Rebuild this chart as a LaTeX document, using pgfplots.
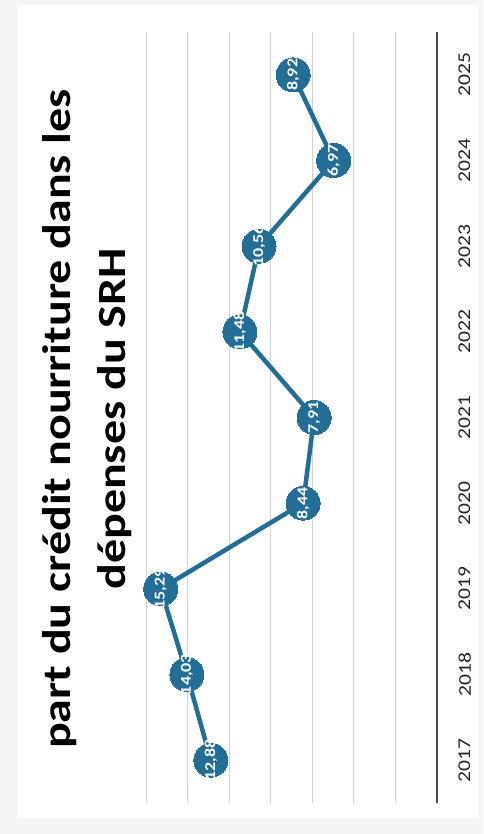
\documentclass[border=0pt]{standalone}
\usepackage{fontspec}
\setmainfont{Carlito}
\newfontfamily\stretchfont[FakeStretch=1.2]{Carlito}
\usepackage{pgfplots}
\pgfplotsset{compat=1.18}
\definecolor{dotblue}{RGB}{35,110,150}
\begin{document}
\begin{tikzpicture}
\path[use as bounding box, fill=gray!8] (-146pt,-31pt) rectangle (337pt,803pt);
\fill[white] (-128pt,-15pt) rectangle (332pt,798pt);
\begin{axis}[
  scale only axis, width=291pt, height=771pt,
  xmin=2, xmax=16, ymin=2016.5, ymax=2025.5,
  x dir=reverse,
  xtick={2,4,...,16}, xticklabels={},
  xmajorgrids, grid style={gray!35, line width=0.8pt},
  ytick={2017,...,2025},
  yticklabels={2017,2018,2019,2020,2021,2022,2023,2024,2025},
  yticklabel pos=right,
  yticklabel shift=18pt,
  yticklabel style={rotate=90, anchor=north, font=\stretchfont\fontsize{18}{18}\selectfont, text=black!85},
  major tick length=0pt,
  axis line style={draw=none},
  clip=false,
  point meta=x,
  nodes near coords={\pgfmathprintnumber[use comma, fixed, fixed zerofill, precision=2, assume math mode=true]{\pgfplotspointmeta}},
  every node near coord/.append style={anchor=center, rotate=90, text=white, font=\stretchfont\bfseries\fontsize{15}{15}\selectfont},
]
\draw[black!70, line width=2.5pt] (axis cs:2,2016.5) -- (axis cs:2,2025.5);
\addplot[dotblue, line width=4.5pt, mark=*, mark size=17pt, mark options={fill=dotblue, draw=dotblue, line width=0pt}] coordinates {
(12.88,2017) (14.03,2018) (15.29,2019) (8.44,2020) (7.91,2021) (11.48,2022) (10.56,2023) (6.97,2024) (8.92,2025)};
\end{axis}
\node[rotate=90, align=center, font=\stretchfont\bfseries\fontsize{40}{55}\selectfont] at (-59pt,384pt) {part du crédit nourriture dans les\\dépenses du SRH};
\end{tikzpicture}
\end{document}
